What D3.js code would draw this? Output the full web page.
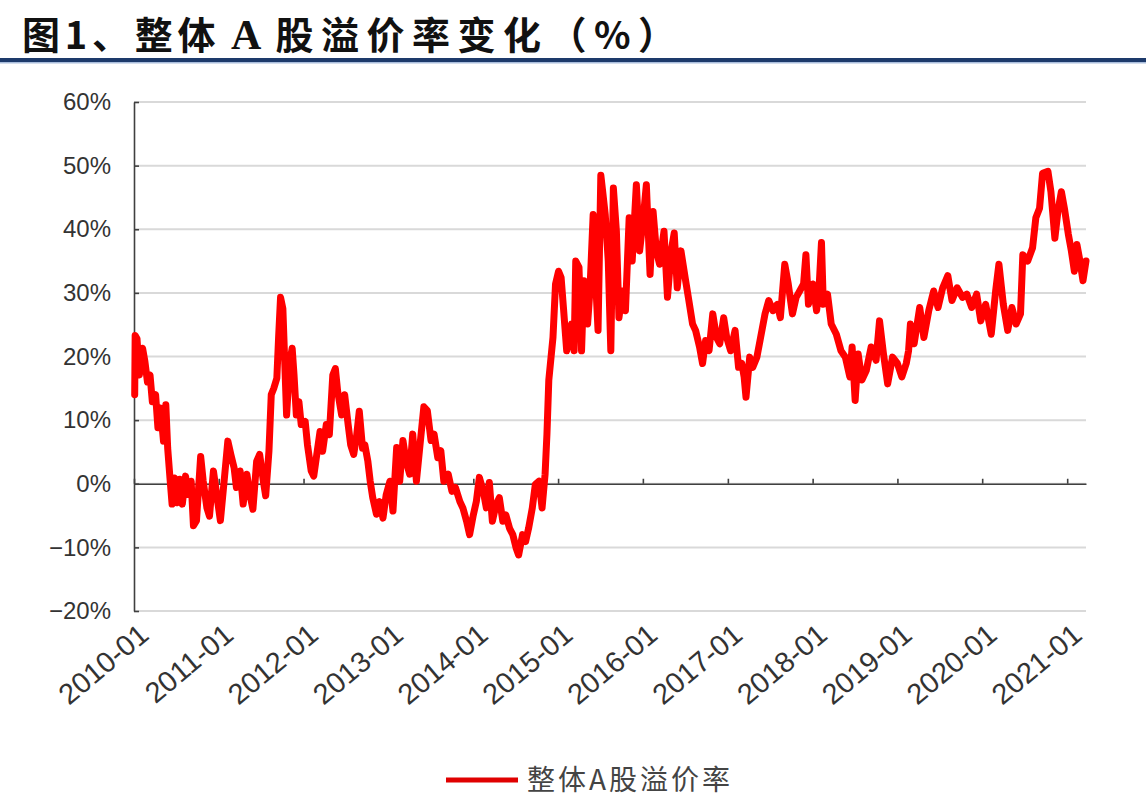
<!DOCTYPE html>
<html>
<head>
<meta charset="utf-8">
<script src="https://cdn.jsdelivr.net/npm/d3@7"></script>
<style>
  html, body { margin: 0; padding: 0; background: #ffffff; }
  svg { display: block; }
</style>
</head>
<body>
<svg id="chart" width="1146" height="807"></svg>
<script>
// ---------------- DATA ----------------
const titleParts = ["图1、整体", " A ", "股溢价率变化（%）"];
const seriesName = "整体A股溢价率";
const yTicks = [-20, -10, 0, 10, 20, 30, 40, 50, 60];
const xTickLabels = ["2010-01","2011-01","2012-01","2013-01","2014-01","2015-01",
                     "2016-01","2017-01","2018-01","2019-01","2020-01","2021-01"];
const xDomain = ["2010-01-01", "2021-03-23"];

const dates = [
"2010-01-04","2010-01-06","2010-01-14","2010-01-24","2010-02-07","2010-02-17","2010-02-28","2010-03-11","2010-03-21","2010-04-04",
"2010-04-14","2010-04-25","2010-05-08","2010-05-18","2010-05-26","2010-06-06","2010-06-14","2010-06-24","2010-07-07","2010-07-17",
"2010-07-28","2010-08-11","2010-08-21","2010-09-04","2010-09-14","2010-09-27","2010-10-15","2010-10-26","2010-11-11","2010-11-22",
"2010-12-09","2010-12-23","2011-01-08","2011-01-24","2011-02-09","2011-02-22","2011-03-08","2011-03-18","2011-04-03","2011-04-16",
"2011-05-02","2011-05-15","2011-05-28","2011-06-13","2011-06-26","2011-07-12","2011-07-22","2011-08-05","2011-08-15","2011-08-26",
"2011-09-08","2011-09-16","2011-09-24","2011-10-04","2011-10-12","2011-10-20","2011-11-03","2011-11-13","2011-11-21","2011-12-01",
"2011-12-12","2011-12-22","2012-01-08","2012-01-18","2012-02-03","2012-02-14","2012-02-27","2012-03-12","2012-03-23","2012-04-08",
"2012-04-21","2012-05-06","2012-05-17","2012-05-27","2012-06-13","2012-06-26","2012-07-11","2012-07-22","2012-08-04","2012-08-17",
"2012-08-28","2012-09-11","2012-09-21","2012-10-04","2012-10-14","2012-10-25","2012-11-10","2012-11-23","2012-12-08","2012-12-22",
"2013-01-07","2013-01-20","2013-02-05","2013-02-18","2013-03-04","2013-03-17","2013-04-02","2013-04-15","2013-05-01","2013-05-14",
"2013-06-02","2013-06-17","2013-07-03","2013-07-16","2013-08-01","2013-08-14","2013-08-27","2013-09-15","2013-10-01","2013-10-16",
"2013-11-04","2013-11-17","2013-12-03","2013-12-16","2014-01-01","2014-01-14","2014-01-27","2014-02-13","2014-02-26","2014-03-11",
"2014-03-24","2014-04-09","2014-04-23","2014-05-08","2014-05-21","2014-06-06","2014-06-20","2014-07-05","2014-07-15","2014-08-01",
"2014-08-14","2014-08-27","2014-09-12","2014-09-25","2014-10-11","2014-10-24","2014-11-06","2014-11-14","2014-11-22","2014-12-10",
"2014-12-21","2015-01-03","2015-01-14","2015-01-24","2015-02-07","2015-02-18","2015-02-28","2015-03-11","2015-03-18","2015-04-01",
"2015-04-12","2015-04-22","2015-05-08","2015-05-18","2015-06-01","2015-06-11","2015-06-22","2015-07-04","2015-07-12","2015-07-23",
"2015-08-05","2015-08-16","2015-08-27","2015-09-09","2015-09-20","2015-10-05","2015-10-18","2015-11-03","2015-11-16","2015-12-04",
"2015-12-18","2016-01-03","2016-01-16","2016-02-01","2016-02-14","2016-02-28","2016-03-13","2016-04-01","2016-04-16","2016-05-02",
"2016-05-15","2016-05-28","2016-06-13","2016-07-01","2016-07-17","2016-08-02","2016-08-15","2016-09-01","2016-09-14","2016-09-27",
"2016-10-12","2016-10-28","2016-11-13","2016-11-27","2016-12-14","2016-12-27","2017-01-13","2017-02-01","2017-02-16","2017-03-02",
"2017-03-12","2017-03-20","2017-04-05","2017-04-18","2017-05-06","2017-05-22","2017-06-10","2017-06-26","2017-07-14","2017-08-02",
"2017-08-15","2017-09-03","2017-09-18","2017-10-06","2017-10-22","2017-11-23","2017-12-03","2017-12-14","2018-01-02","2018-01-18",
"2018-01-28","2018-02-08","2018-02-16","2018-03-06","2018-03-22","2018-04-13","2018-05-03","2018-05-22","2018-06-10","2018-06-20",
"2018-07-03","2018-07-16","2018-08-01","2018-08-20","2018-09-10","2018-10-01","2018-10-16","2018-11-02","2018-11-20","2018-12-11",
"2019-01-01","2019-01-20","2019-02-08","2019-02-18","2019-02-26","2019-03-14","2019-04-07","2019-04-25","2019-05-16","2019-06-06",
"2019-06-25","2019-07-15","2019-08-06","2019-08-24","2019-09-15","2019-10-08","2019-10-27","2019-11-17","2019-12-08","2019-12-26",
"2020-01-16","2020-02-09","2020-02-28","2020-03-13","2020-04-01","2020-04-20","2020-05-08","2020-05-26","2020-06-14","2020-06-24",
"2020-07-15","2020-08-05","2020-08-19","2020-09-04","2020-09-17","2020-10-10","2020-10-23","2020-11-09","2020-11-22","2020-12-07",
"2020-12-20","2021-01-06","2021-01-19","2021-02-01","2021-02-12","2021-02-25","2021-03-10","2021-03-23"
];

const premium = [
14.0,23.3,22.8,17.1,21.3,19.2,16.0,17.1,12.9,14.0,
8.8,11.9,6.7,12.4,5.6,0.4,-3.2,0.9,-3.0,0.7,
-3.2,1.2,-1.7,0.4,-6.6,-5.8,4.3,0.4,-3.8,-5.1,
2.0,-1.7,-5.8,0.4,6.7,4.6,2.5,-0.6,2.0,-3.2,
1.5,-1.7,-4.0,3.5,4.6,0.4,-1.9,5.1,14.0,15.0,
16.6,23.3,29.3,27.5,19.2,10.8,19.2,21.3,17.1,10.8,
12.9,9.3,9.8,6.1,2.0,1.2,4.6,8.2,5.1,9.3,
7.7,17.1,18.1,14.5,10.8,14.0,9.3,6.1,4.6,7.7,
11.4,5.6,6.1,3.5,0.4,-2.2,-4.8,-2.8,-5.4,-1.7,
0.4,-4.3,5.7,0.4,6.8,3.6,1.5,7.8,0.4,5.2,
12.1,11.5,6.8,7.8,4.1,5.2,0.4,1.5,-1.2,-0.6,
-2.8,-3.8,-5.9,-8.0,-4.9,-2.8,1.0,-1.2,-3.8,0.2,
-5.9,-3.3,-2.2,-5.9,-4.9,-7.0,-8.0,-10.2,-11.2,-8.0,
-9.1,-7.0,-3.8,-0.1,0.4,-3.8,1.5,7.8,16.3,23.0,
31.4,33.4,32.4,27.7,20.9,23.0,25.1,20.9,35.0,34.0,
20.9,31.9,25.1,30.3,42.3,32.4,24.1,48.5,45.9,42.3,
35.0,20.9,46.5,39.7,26.1,30.3,27.2,41.8,35.0,47.0,
36.6,41.8,47.0,32.9,42.8,36.6,34.5,39.7,29.3,36.6,
39.4,30.8,36.6,32.4,28.8,25.1,24.1,21.5,18.9,22.5,
20.9,26.7,23.0,22.0,26.1,23.0,20.9,24.1,18.3,18.9,
16.8,13.6,19.9,18.3,19.9,23.0,26.7,28.8,27.2,28.2,
26.1,34.5,31.4,26.7,29.3,31.4,36.0,28.2,31.4,27.2,
30.3,37.9,28.2,29.8,25.1,23.5,20.9,19.9,16.8,21.5,
13.1,20.4,16.3,17.8,21.5,19.4,25.6,20.4,15.7,19.9,
18.9,16.8,18.9,20.9,25.1,22.0,27.7,23.0,27.2,30.3,
27.7,30.8,32.7,28.8,30.8,29.3,29.8,27.7,29.8,25.6,
28.2,23.5,30.3,34.5,28.2,24.1,27.7,25.1,26.7,36.0,
35.0,37.1,41.8,43.3,48.8,49.1,45.9,38.6,42.8,45.9,
43.3,39.2,36.6,33.4,37.6,35.0,31.9,35.0
];

// ---------------- CHART ----------------
const svg = d3.select("#chart");
const W = 1146, H = 807;
const plot = { left: 134, right: 1086, top: 102, bottom: 611 };
const parseDay = d3.timeParse("%Y-%m-%d");
const parseMonth = d3.timeParse("%Y-%m");

const data = dates.map((d, i) => ({ date: parseDay(d), value: premium[i] }));

const x = d3.scaleTime()
  .domain(xDomain.map(parseDay))
  .range([plot.left, plot.right]);
const y = d3.scaleLinear()
  .domain([d3.min(yTicks), d3.max(yTicks)])
  .range([plot.bottom, plot.top]);

svg.append("rect").attr("width", W).attr("height", H).attr("fill", "#ffffff");

// Title
const title = svg.append("text")
  .attr("x", 22).attr("y", 49)
  .attr("font-family", "'Noto Sans CJK SC', sans-serif")
  .attr("font-weight", 700)
  .attr("font-size", 38)
  .attr("fill", "#111111");
title.append("tspan").attr("letter-spacing", 4.8).text(titleParts[0]);
title.append("tspan")
  .attr("font-family", "'Liberation Serif', 'Times New Roman', serif")
  .attr("font-size", 42)
  .attr("letter-spacing", 0)
  .text(titleParts[1]);
title.append("tspan").attr("dx", 6).attr("letter-spacing", 7.5).text(titleParts[2]);

// Title rule
svg.append("rect").attr("x", 0).attr("y", 58).attr("width", W).attr("height", 4).attr("fill", "#1d3a6b");
svg.append("rect").attr("x", 0).attr("y", 62).attr("width", W).attr("height", 1.5).attr("fill", "#a9bddc");

// Gridlines
svg.append("g")
  .selectAll("line")
  .data(yTicks)
  .join("line")
  .attr("x1", plot.left).attr("x2", plot.right)
  .attr("y1", d => y(d)).attr("y2", d => y(d))
  .attr("stroke", "#d9d9d9")
  .attr("stroke-width", 2);

// Y axis (ticks point inward)
const yAxis = svg.append("g")
  .attr("transform", `translate(${plot.left},0)`)
  .call(d3.axisLeft(y).tickValues(yTicks).tickSize(-5).tickSizeOuter(0).tickPadding(23)
        .tickFormat(d => (d < 0 ? "\u2212" + Math.abs(d) : d) + "%"));
yAxis.select(".domain").attr("stroke", "#404040").attr("stroke-width", 1.6);
yAxis.selectAll(".tick line").attr("stroke", "#404040").attr("stroke-width", 1.6);
yAxis.selectAll("text")
  .attr("font-family", "'Liberation Sans', Arial, sans-serif")
  .attr("font-size", 24)
  .attr("fill", "#333333");

// X axis at 0% (ticks point up)
const xTicks = xTickLabels.map(parseMonth);
const xAxis = svg.append("g")
  .attr("transform", `translate(0,${y(0)})`)
  .call(d3.axisBottom(x).tickValues(xTicks).tickSize(-5).tickSizeOuter(0)
        .tickFormat((d, i) => xTickLabels[i]));
xAxis.select(".domain").attr("stroke", "#404040").attr("stroke-width", 1.6);
xAxis.selectAll(".tick line").attr("stroke", "#404040").attr("stroke-width", 1.6);
xAxis.selectAll("text")
  .attr("font-family", "'Liberation Sans', Arial, sans-serif")
  .attr("font-size", 29)
  .attr("fill", "#333333")
  .attr("text-anchor", "end")
  .attr("y", 0).attr("dy", "0.7em")
  .attr("transform", `translate(3,${plot.bottom - y(0) + 11}) rotate(-40)`);

// Series line
const line = d3.line()
  .x(d => x(d.date))
  .y(d => y(d.value));

svg.append("path")
  .datum(data)
  .attr("d", line)
  .attr("fill", "none")
  .attr("stroke", "#ff0000")
  .attr("stroke-width", 7)
  .attr("stroke-linejoin", "round")
  .attr("stroke-linecap", "round");

// Legend
const lg = svg.append("g");
lg.append("line")
  .attr("x1", 446).attr("x2", 518)
  .attr("y1", 780).attr("y2", 780)
  .attr("stroke", "#e00000")
  .attr("stroke-width", 5);
lg.append("text")
  .attr("x", 527).attr("y", 780)
  .attr("dy", "0.36em")
  .attr("font-family", "'Noto Sans CJK SC', sans-serif")
  .attr("font-size", 28)
  .attr("letter-spacing", 3)
  .attr("fill", "#444444")
  .text(seriesName);
</script>
</body>
</html>
